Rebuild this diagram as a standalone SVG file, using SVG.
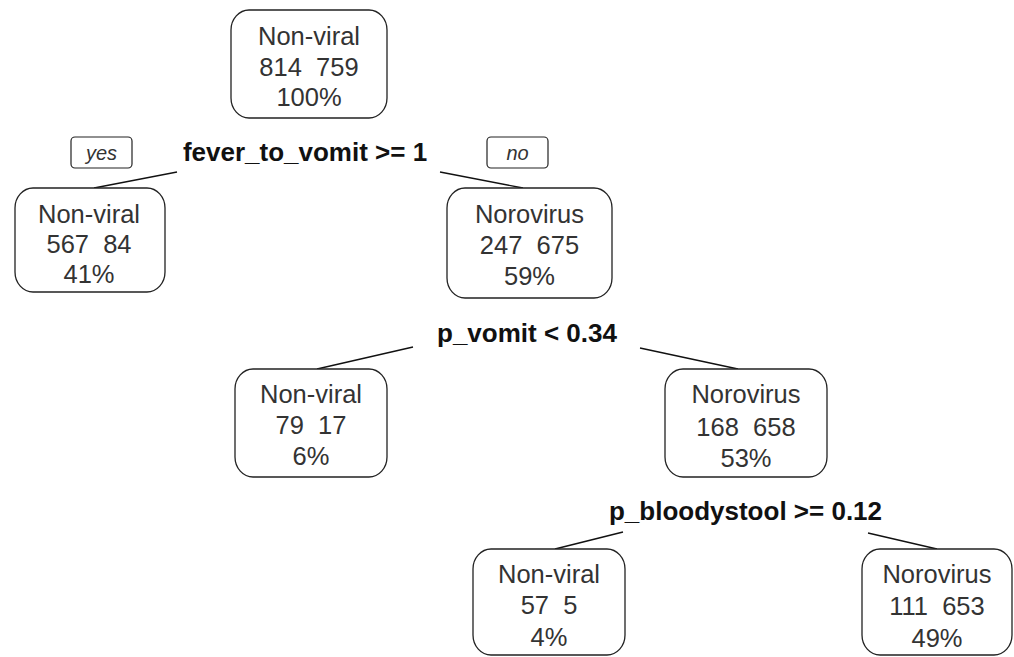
<svg xmlns="http://www.w3.org/2000/svg" width="1014" height="657" viewBox="0 0 1014 657">
<style>
.box{fill:#fff;stroke:#222;stroke-width:1.3}
.t{font-family:"Liberation Sans",Arial,sans-serif;font-size:25.5px;fill:#333;text-anchor:middle;white-space:pre}
.s{font-family:"Liberation Sans",Arial,sans-serif;font-size:26px;font-weight:bold;fill:#111;text-anchor:middle}
.yn{font-family:"Liberation Sans",Arial,sans-serif;font-size:20px;font-style:italic;fill:#333;text-anchor:middle}
.lbox{fill:#fff;stroke:#222;stroke-width:1.2}
.c{stroke:#111;stroke-width:1.3;fill:none}
</style>
<rect width="1014" height="657" fill="#fff"/>
<g id="connectors">
<line class="c" x1="177" y1="172" x2="94" y2="188"/>
<line class="c" x1="440" y1="172" x2="523" y2="188"/>
<line class="c" x1="413" y1="347" x2="317" y2="369"/>
<line class="c" x1="640" y1="348" x2="738" y2="369"/>
<line class="c" x1="623" y1="532" x2="555" y2="549"/>
<line class="c" x1="868" y1="533" x2="937" y2="549"/>
</g>
<g id="split-labels">
<rect class="lbox" x="71" y="137" width="61" height="31" rx="4"/>
<text class="yn" x="101.5" y="160">yes</text>
<rect class="lbox" x="487" y="137" width="61" height="31" rx="4"/>
<text class="yn" x="517.5" y="160">no</text>
<text class="s" x="305" y="161">fever_to_vomit &gt;= 1</text>
<text class="s" x="527" y="342">p_vomit &lt; 0.34</text>
<text class="s" x="745.5" y="520">p_bloodystool &gt;= 0.12</text>
</g>
<g id="node-root">
<rect class="box" x="231" y="10" width="156" height="108" rx="18" ry="20"/>
<text class="t" x="309" y="45">Non-viral</text>
<text class="t" x="309" y="76">814  759</text>
<text class="t" x="309" y="106">100%</text>
</g>
<g id="node-left1">
<rect class="box" x="15" y="188" width="150" height="104" rx="18" ry="20"/>
<text class="t" x="89" y="223">Non-viral</text>
<text class="t" x="89" y="253">567  84</text>
<text class="t" x="89" y="283">41%</text>
</g>
<g id="node-right1">
<rect class="box" x="447" y="188" width="165" height="110" rx="18" ry="20"/>
<text class="t" x="529.5" y="223">Norovirus</text>
<text class="t" x="529.5" y="254">247  675</text>
<text class="t" x="529.5" y="285">59%</text>
</g>
<g id="node-left2">
<rect class="box" x="235" y="369" width="152" height="108" rx="18" ry="20"/>
<text class="t" x="311" y="403">Non-viral</text>
<text class="t" x="311" y="434">79  17</text>
<text class="t" x="311" y="465">6%</text>
</g>
<g id="node-right2">
<rect class="box" x="665" y="369" width="162" height="108" rx="18" ry="20"/>
<text class="t" x="746" y="403">Norovirus</text>
<text class="t" x="746" y="436">168  658</text>
<text class="t" x="746" y="467">53%</text>
</g>
<g id="node-left3">
<rect class="box" x="473" y="549" width="152" height="106" rx="18" ry="20"/>
<text class="t" x="549" y="583">Non-viral</text>
<text class="t" x="549" y="614">57  5</text>
<text class="t" x="549" y="646">4%</text>
</g>
<g id="node-right3">
<rect class="box" x="862" y="549" width="150" height="106" rx="18" ry="20"/>
<text class="t" x="937" y="583">Norovirus</text>
<text class="t" x="937" y="615">111  653</text>
<text class="t" x="937" y="647">49%</text>
</g>
</svg>
